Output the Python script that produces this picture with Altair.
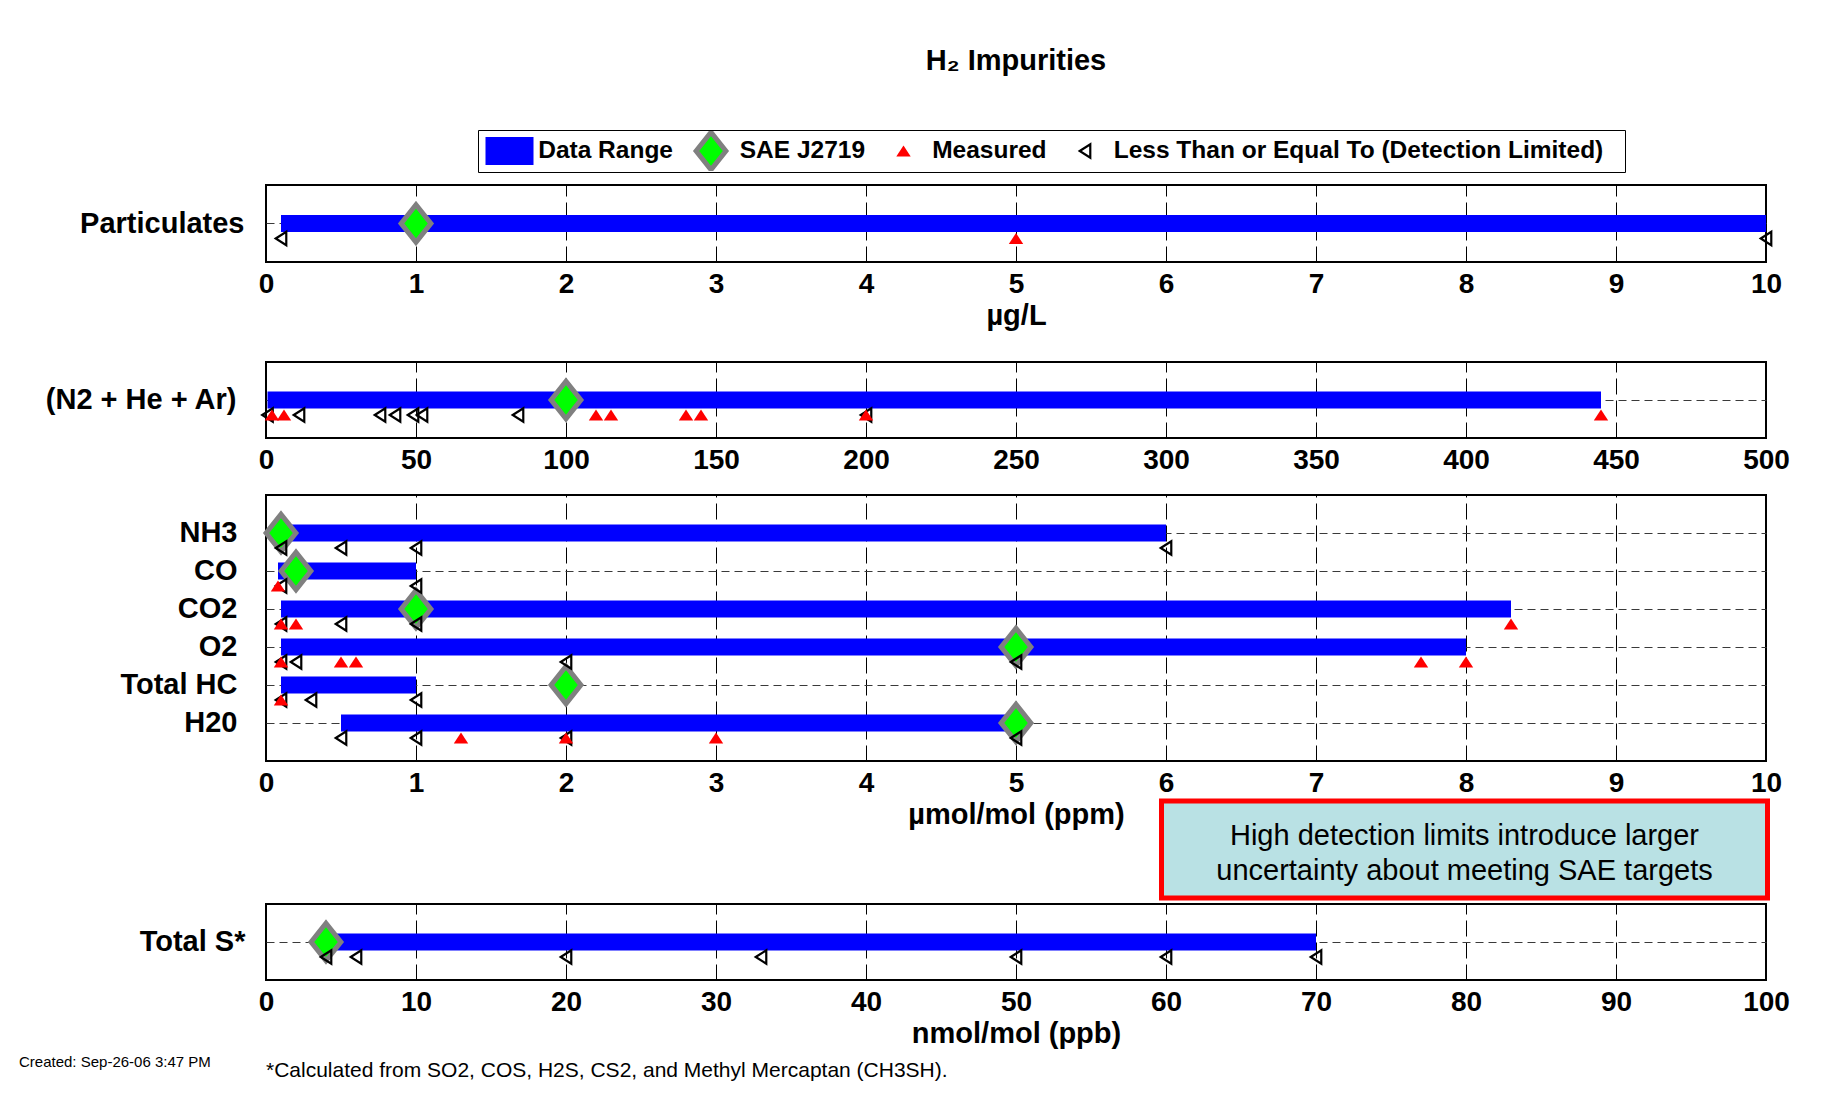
import altair as alt
import pandas as pd

# ------------------------------------------------------------------ data
ROWS = ["Particulates", "(N2 + He + Ar)", "NH3", "CO", "CO2", "O2", "Total HC", "H20", "Total S*"]
ROW_PANEL = [0, 1, 2, 2, 2, 2, 2, 2, 3]
RANGE_MIN = [0.1, 0.5, 0.1, 0.08, 0.1, 0.1, 0.1, 0.5, 4]
RANGE_MAX = [10, 445, 6, 1, 8.3, 8, 1, 5, 70]
SAE_J2719 = [1, 100, 0.1, 0.2, 1, 5, 2, 5, 4]
MEASURED = [
    [5],
    [2, 6, 110, 115, 140, 145, 200, 445],
    [],
    [0.08],
    [0.1, 0.2, 8.3],
    [0.1, 0.5, 0.6, 7.7, 8],
    [0.1],
    [1.3, 2, 3],
    [],
]
LESS_THAN = [
    [0.1, 10],
    [0.5, 11, 38, 43, 49, 52, 84, 200],
    [0.1, 0.5, 1, 6],
    [0.1, 1],
    [0.1, 0.5, 1],
    [0.1, 0.2, 2, 5],
    [0.1, 0.3, 1],
    [0.5, 1, 2, 5],
    [4, 6, 20, 33, 50, 60, 70],
]
AXIS_MAX = [10, 500, 10, 100]
AXIS_TICKS = [
    [0, 1, 2, 3, 4, 5, 6, 7, 8, 9, 10],
    [0, 50, 100, 150, 200, 250, 300, 350, 400, 450, 500],
    [0, 1, 2, 3, 4, 5, 6, 7, 8, 9, 10],
    [0, 10, 20, 30, 40, 50, 60, 70, 80, 90, 100],
]
AXIS_UNITS = ["µg/L", "", "µmol/mol (ppm)", "nmol/mol (ppb)"]
LEGEND_ITEMS = ["Data Range", "SAE J2719", "Measured", "Less Than or Equal To (Detection Limited)"]
TITLE = "H₂ Impurities"
NOTE_LINES = ["High detection limits introduce larger", "uncertainty about meeting SAE targets"]
NOTE_SPAN = [5.97, 10.01]
FOOTNOTE = "*Calculated from SO2, COS, H2S, CS2, and Methyl Mercaptan (CH3SH)."
CREATED = "Created: Sep-26-06  3:47 PM"

# ------------------------------------------------------------------ tables
bars = pd.DataFrame({"row": ROWS, "panel": ROW_PANEL, "lo": RANGE_MIN, "hi": RANGE_MAX})
sae = pd.DataFrame({"row": ROWS, "panel": ROW_PANEL, "value": SAE_J2719, "type": LEGEND_ITEMS[1]})
meas = pd.DataFrame([{"row": r, "panel": p, "value": v, "type": LEGEND_ITEMS[2]}
                     for r, p, vals in zip(ROWS, ROW_PANEL, MEASURED) for v in vals])
less = pd.DataFrame([{"row": r, "panel": p, "value": v, "type": LEGEND_ITEMS[3]}
                     for r, p, vals in zip(ROWS, ROW_PANEL, LESS_THAN) for v in vals])

# ------------------------------------------------------------------ styles
FONT = "Liberation Sans"
BLUE, GREEN, RED, GRAY = "#0000ff", "#00ff00", "#ff0000", "#808080"
SYM = 2304  # symbol area -> unit radius of 24 px for the custom paths below
SHAPE_RANGE = "M-1,-0.58H1V0.58H-1Z"
SHAPE_SAE = "M0,-0.78L0.62,0L0,0.78L-0.62,0Z"
SHAPE_MEAS = "M0,-0.23L0.3,0.23L-0.3,0.23Z"
SHAPE_LT = "M-0.22,0L0.22,-0.28L0.22,0.28Z"
PAD_TAIL = "\u00a0" * 3 + "\u200b"  # widens the legend frame on the right, as in the original

FILLS = [BLUE, GREEN, RED, "transparent"]
STROKES = ["transparent", GRAY, "transparent", "black"]
WIDTHS = [0, 5, 0, 2.2]
SHAPES = [SHAPE_RANGE, SHAPE_SAE, SHAPE_MEAS, SHAPE_LT]

legend = alt.Legend(
    title=None, orient="none", legendX=212, legendY=-55, direction="horizontal", columns=4,
    symbolSize=SYM, symbolOffset=4, labelOffset=2.2, columnPadding=7.5, padding=1, clipHeight=40,
    strokeColor="black", fillColor="white",
    labelFont=FONT, labelFontSize=24.5, labelFontWeight="bold", labelColor="black", labelLimit=900,
    labelExpr="datum.value === '%s' ? datum.label + '%s' : datum.label" % (LEGEND_ITEMS[3], PAD_TAIL),
)


def legend_channels():
    return dict(
        fill=alt.Fill("type:N", scale=alt.Scale(domain=LEGEND_ITEMS, range=FILLS), legend=legend),
        stroke=alt.Stroke("type:N", scale=alt.Scale(domain=LEGEND_ITEMS, range=STROKES), legend=legend),
        shape=alt.Shape("type:N", scale=alt.Scale(domain=LEGEND_ITEMS, range=SHAPES), legend=legend),
        strokeWidth=alt.StrokeWidth("type:N", scale=alt.Scale(type="ordinal", domain=LEGEND_ITEMS,
                                                              range=WIDTHS), legend=legend),
    )


def panel(i, height, label_pad, extra=()):
    rows = [r for r, p in zip(ROWS, ROW_PANEL) if p == i]
    xs = alt.Scale(domain=[0, AXIS_MAX[i]], nice=False, zero=False)
    xa = alt.Axis(
        values=AXIS_TICKS[i], title=AXIS_UNITS[i] if AXIS_UNITS[i] else None,
        grid=True, gridDash=[16, 6], gridColor="black", gridWidth=1, gridOpacity=1,
        ticks=False, tickSize=0, domain=False,
        labelFont=FONT, labelFontSize=28, labelFontWeight="bold", labelColor="black",
        labelPadding=8, labelFlush=False, labelOverlap=False, minExtent=37, maxExtent=37,
        titleFont=FONT, titleFontSize=29, titleFontWeight="bold", titleColor="black", titlePadding=2.5,
    )
    ys = alt.Scale(type="band", domain=rows, paddingInner=0,
                   paddingOuter=0.5 if len(rows) > 1 else 0)
    ya = alt.Axis(
        title=None, grid=True, gridDash=[8, 5], gridColor="#3a3a3a", gridWidth=1.2, gridOpacity=1,
        ticks=False, tickSize=0, domain=False, bandPosition=0.5,
        labelFont=FONT, labelFontSize=29, labelFontWeight="bold", labelColor="black",
        labelPadding=label_pad, labelLimit=400, minExtent=250, maxExtent=250,
    )
    Y = alt.Y("row:N", scale=ys, axis=ya)

    def X(f):
        return alt.X(f, scale=xs, axis=xa)

    layers = [alt.Chart(bars[bars.panel == i]).mark_bar(size=17, color=BLUE, opacity=1).encode(
        x=X("lo:Q"), x2="hi:Q", y=Y)]

    s, l, m = sae[sae.panel == i], less[less.panel == i], meas[meas.panel == i]
    if i == 0:
        enc = legend_channels()
        layers.append(alt.Chart(s).mark_point(size=SYM, filled=True, opacity=1).encode(
            x=X("value:Q"), y=Y, **enc))
        layers.append(alt.Chart(l).mark_point(size=SYM, filled=True, opacity=1, yOffset=15).encode(
            x=X("value:Q"), y=Y, **enc))
        layers.append(alt.Chart(m).mark_point(size=SYM, filled=True, opacity=1, yOffset=15).encode(
            x=X("value:Q"), y=Y, **enc))
    else:
        layers.append(alt.Chart(s).mark_point(
            shape=SHAPE_SAE, size=SYM, filled=True, fill=GREEN, stroke=GRAY, strokeWidth=5, opacity=1
        ).encode(x=X("value:Q"), y=Y))
        layers.append(alt.Chart(l).mark_point(
            shape=SHAPE_LT, size=SYM, filled=False, stroke="black", strokeWidth=2.2, opacity=1, yOffset=15
        ).encode(x=X("value:Q"), y=Y))
        if len(m):
            layers.append(alt.Chart(m).mark_point(
                shape=SHAPE_MEAS, size=SYM, filled=True, color=RED, opacity=1, yOffset=15
            ).encode(x=X("value:Q"), y=Y))
    for e in extra:
        layers.append(e(X))
    return alt.layer(*layers).properties(width=1500, height=height)


def note_box(X):
    d = pd.DataFrame({"x0": [NOTE_SPAN[0]], "x1": [NOTE_SPAN[1]]})
    return alt.Chart(d).mark_rect(fill="#b9e1e4", stroke=RED, strokeWidth=5).encode(
        x=X("x0:Q"), x2="x1:Q", y=alt.value(306), y2=alt.value(403))


def note_text(X):
    d = pd.DataFrame({"xm": [(NOTE_SPAN[0] + NOTE_SPAN[1]) / 2]})
    return alt.Chart(d).mark_text(text=NOTE_LINES, font=FONT, fontSize=29, lineHeight=35,
                                  align="center", baseline="middle", color="black").encode(
        x=X("xm:Q"), y=alt.value(340.5))


def footnote(X):
    d = pd.DataFrame({"t": [FOOTNOTE]})
    return alt.Chart(d).mark_text(font=FONT, fontSize=21, align="left", baseline="middle",
                                  color="black").encode(text="t:N", x=alt.value(0), y=alt.value(167))


def created(X):
    d = pd.DataFrame({"t": [CREATED]})
    return alt.Chart(d).mark_text(font=FONT, fontSize=15, align="left", baseline="middle",
                                  color="black").encode(text="t:N", x=alt.value(-247), y=alt.value(158))


p1 = panel(0, 77, 22).properties(title=alt.TitleParams(
    TITLE, anchor="middle", frame="group", baseline="bottom", offset=25,
    font=FONT, fontSize=29, fontWeight="bold", color="black"))
p2 = panel(1, 76, 30)
p3 = panel(2, 266, 29, extra=(note_box, note_text))
p4 = panel(3, 76, 21, extra=(footnote, created))

upper = (alt.vconcat(p1, p2, spacing=100, bounds="flush")
         .resolve_scale(fill="independent", stroke="independent", shape="independent",
                        strokeWidth="independent")
         .resolve_legend(fill="independent", stroke="independent", shape="independent",
                         strokeWidth="independent"))
lower = alt.vconcat(p3, p4, spacing=143, bounds="flush")
chart = (
    alt.vconcat(upper, lower, spacing=18)
    .properties(padding={"left": 7, "top": 37, "right": 10, "bottom": 4}, background="white")
    .configure(font=FONT)
    .configure_view(stroke="black", strokeWidth=2)
)

chart.save("out.html", embed_options={"renderer": "svg", "actions": False})
